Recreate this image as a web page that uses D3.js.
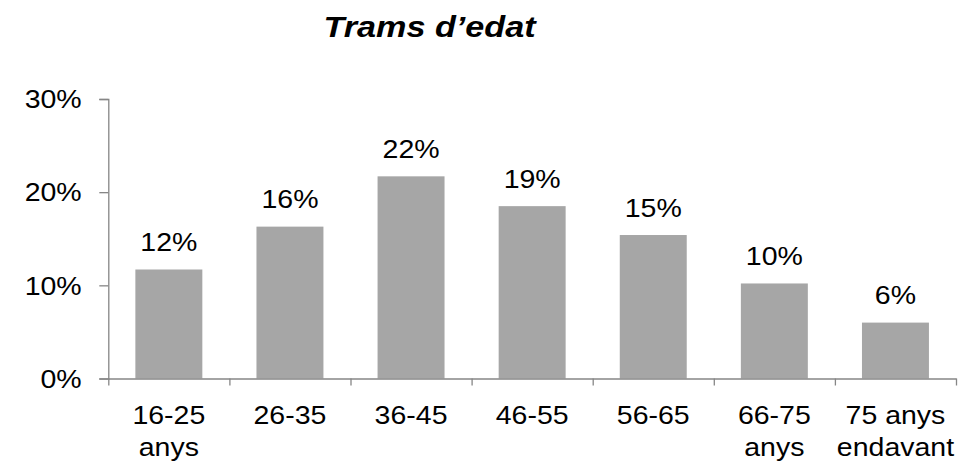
<!DOCTYPE html>
<html>
  <head>
    <meta charset="utf-8">
    <script src="https://d3js.org/d3.v7.min.js"></script>
    <style>
      body { margin: 0; background: #fff; }
      text { font-family: 'Liberation Sans', Arial, sans-serif; fill: #000; }
    </style>
  </head>
  <body>
    <svg></svg>
    <script type="text/javascript">
      const categories = [
        ['16-25', 'anys'],
        ['26-35'],
        ['36-45'],
        ['46-55'],
        ['56-65'],
        ['66-75', 'anys'],
        ['75 anys', 'endavant']
      ]
      const values = [0.117, 0.163, 0.217, 0.185, 0.154, 0.102, 0.060]
      const yTicks = [0, 0.1, 0.2, 0.3]
      const title = 'Trams d\u2019edat'

      const width = 972
      const height = 464
      const stretch = 1.14
      const axisColor = '#868686'

      const svg = d3.select('svg')
        .attr('width', width)
        .attr('height', height)

      const x = d3.scaleBand()
        .domain(d3.range(categories.length))
        .range([108.3, 956])
        .padding(0)

      const xEdge = d3.scaleLinear()
        .domain([0, categories.length])
        .range([108.3, 956])

      const y = d3.scaleLinear()
        .domain([0, 0.3])
        .range([378.5, 99])

      const barW = x.bandwidth() * 0.553

      // bars
      svg.selectAll('.bar')
        .data(values)
        .enter()
        .append('rect')
          .attr('class', 'bar')
          .attr('x', (d, i) => x(i) + (x.bandwidth() - barW) / 2)
          .attr('y', d => y(d))
          .attr('width', barW)
          .attr('height', d => y(0) - y(d))
          .attr('fill', '#a6a6a6')

      // y axis
      const yAxis = svg.append('g')
        .attr('transform', `translate(${xEdge(0)},0)`)
        .call(d3.axisLeft(y).tickValues(yTicks).tickFormat(d3.format('.0%')).tickSize(9))
      yAxis.select('.domain').attr('stroke', axisColor).attr('stroke-width', 1.3)
      yAxis.selectAll('.tick line').attr('stroke', axisColor).attr('stroke-width', 1.3)
      yAxis.selectAll('.tick text')
        .attr('transform', `scale(${stretch},1)`)
        .attr('x', -26.6 / stretch)
        .attr('dy', '0.35em')
        .style('font-size', '25px')
        .style('font-family', "'Liberation Sans', Arial, sans-serif")
        .attr('fill', '#000')

      // x axis
      const xAxis = svg.append('g')
        .attr('transform', `translate(0,${y(0)})`)
        .call(d3.axisBottom(xEdge).tickValues(d3.range(categories.length + 1)).tickFormat('').tickSize(7).tickSizeOuter(0))
      xAxis.select('.domain').attr('stroke', axisColor).attr('stroke-width', 1.3)
      xAxis.selectAll('.tick line').attr('stroke', axisColor).attr('stroke-width', 1.3)

      // category labels
      svg.selectAll('.cat_label')
        .data(categories)
        .enter()
        .append('text')
          .attr('class', 'cat_label')
          .attr('transform', (d, i) => `translate(${x(i) + x.bandwidth() / 2},424.3) scale(${stretch},1)`)
          .attr('text-anchor', 'middle')
          .style('font-size', '25px')
          .selectAll('tspan')
          .data(d => d)
          .enter()
          .append('tspan')
            .attr('x', 0)
            .attr('y', (d, j) => j * 31.5)
            .text(d => d)

      // value labels
      svg.selectAll('.value_label')
        .data(values)
        .enter()
        .append('text')
          .attr('class', 'value_label')
          .attr('transform', (d, i) => `translate(${x(i) + x.bandwidth() / 2},${y(d) - 18.5}) scale(${stretch},1)`)
          .attr('text-anchor', 'middle')
          .style('font-size', '25px')
          .text(d => Math.round(d * 100) + '%')

      // title
      svg.append('text')
        .attr('transform', `translate(429.5,37) scale(${stretch},1)`)
        .attr('text-anchor', 'middle')
        .style('font-size', '30px')
        .style('font-weight', 'bold')
        .style('font-style', 'italic')
        .text(title)
    </script>
  </body>
</html>
